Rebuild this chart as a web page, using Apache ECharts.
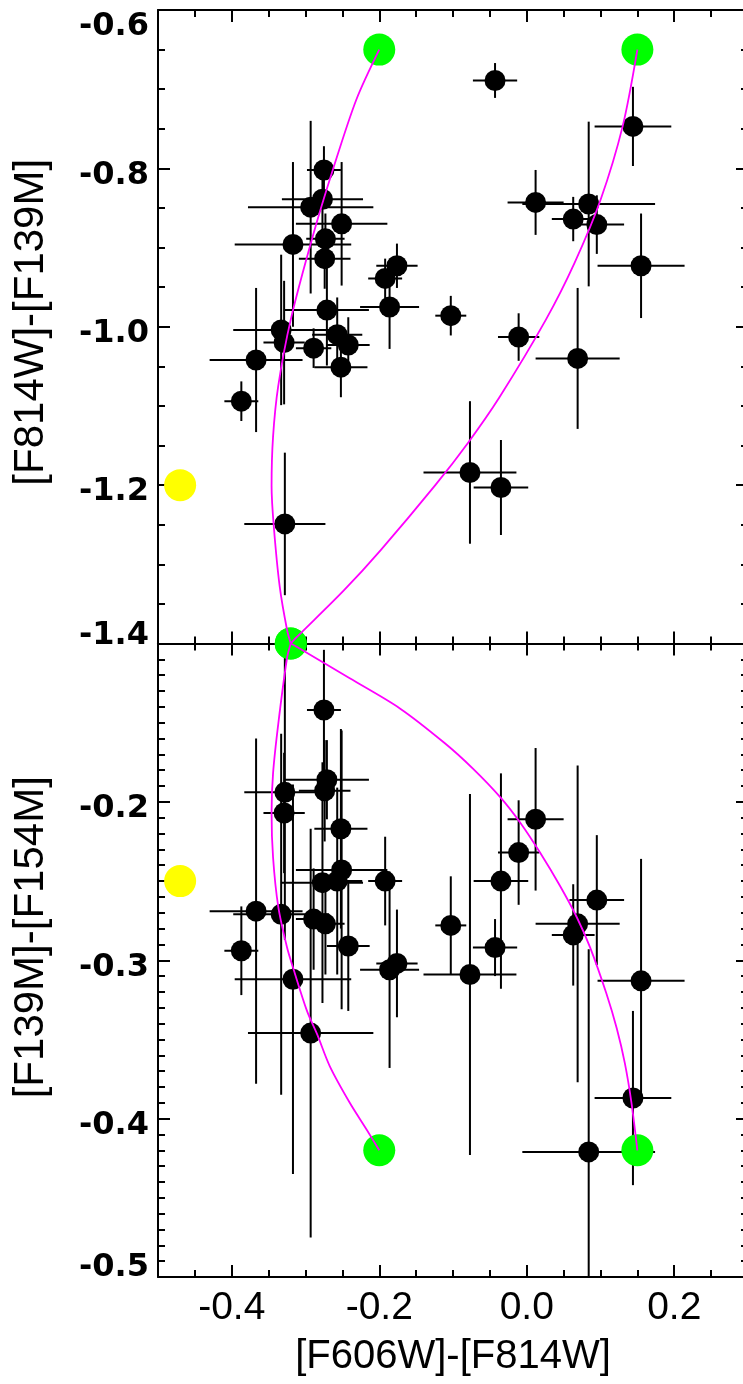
<!DOCTYPE html>
<html><head><meta charset="utf-8">
<script src="https://cdn.jsdelivr.net/npm/echarts@6/dist/echarts.min.js"></script>
<style>html,body{margin:0;padding:0;background:#fff}#c{width:743px;height:1384px}</style>
</head><body><div id="c"></div>
<script>
// ---- data ----
const colorX    = [-0.275,-0.277,-0.293,-0.251,-0.273,-0.317,-0.274,-0.043,0.144,0.012,0.084,0.063,0.095,0.155,-0.176,-0.192,-0.186,-0.271,-0.103,-0.011,-0.333,-0.329,-0.257,-0.242,-0.252,-0.289,-0.367,0.069,-0.387,-0.077,-0.035,-0.328];
const colorXErr = [0.023,0.055,0.085,0.062,0.026,0.079,0.035,0.030,0.052,0.038,0.090,0.029,0.037,0.059,0.028,0.023,0.040,0.057,0.021,0.028,0.065,0.028,0.034,0.029,0.036,0.024,0.063,0.057,0.023,0.063,0.037,0.055];
const topY      = [-0.802,-0.839,-0.849,-0.870,-0.889,-0.896,-0.914,-0.689,-0.747,-0.843,-0.845,-0.864,-0.871,-0.923,-0.923,-0.939,-0.975,-0.979,-0.986,-1.013,-1.004,-1.020,-1.010,-1.023,-1.051,-1.027,-1.042,-1.040,-1.094,-1.184,-1.203,-1.249];
const topYErr   = [0.030,0.038,0.109,0.078,0.032,0.104,0.038,0.022,0.050,0.041,0.104,0.028,0.037,0.066,0.028,0.025,0.053,0.070,0.025,0.030,0.095,0.078,0.047,0.035,0.038,0.025,0.091,0.089,0.025,0.090,0.060,0.090];
const botY      = [-0.142,-0.251,-0.346,-0.243,-0.277,-0.312,-0.193,-0.292,-0.387,-0.211,-0.421,-0.284,-0.262,-0.313,-0.302,-0.250,-0.306,-0.186,-0.278,-0.232,-0.271,-0.207,-0.250,-0.291,-0.217,-0.274,-0.269,-0.277,-0.294,-0.309,-0.250,-0.194];
const botYErr   = [0.038,0.076,0.129,0.088,0.032,0.123,0.032,0.018,0.055,0.045,0.128,0.032,0.041,0.077,0.034,0.028,0.062,0.025,0.031,0.033,0.114,0.038,0.059,0.041,0.063,0.032,0.109,0.100,0.028,0.114,0.068,0.093];

const topGreen  = [[-0.2,-0.65],[0.15,-0.65],[-0.32,-1.4]];
const botGreen  = [[-0.32,-0.1],[-0.2,-0.42],[0.15,-0.42]];
const topYellow = [[-0.47,-1.2]];
const botYellow = [[-0.47,-0.25]];

const topCurveA = [[-0.2,-0.65],[-0.231,-0.713],[-0.263,-0.802],[-0.289,-0.882],[-0.320,-0.991],[-0.337,-1.075],[-0.344,-1.139],[-0.346,-1.201],[-0.343,-1.252],[-0.335,-1.328],[-0.325,-1.383],[-0.32,-1.4]];
const topCurveB = [[0.15,-0.65],[0.130,-0.747],[0.100,-0.840],[0.065,-0.919],[0.026,-0.991],[-0.037,-1.089],[-0.080,-1.147],[-0.124,-1.200],[-0.198,-1.282],[-0.248,-1.333],[-0.313,-1.393],[-0.32,-1.4]];
const botCurveA = [[-0.32,-0.1],[-0.325,-0.109],[-0.337,-0.151],[-0.344,-0.182],[-0.346,-0.207],[-0.344,-0.235],[-0.337,-0.266],[-0.325,-0.292],[-0.316,-0.306],[-0.298,-0.332],[-0.284,-0.347],[-0.267,-0.367],[-0.240,-0.390],[-0.217,-0.407],[-0.2,-0.42]];
const botCurveB = [[-0.32,-0.1],[-0.312,-0.102],[-0.240,-0.122],[-0.172,-0.141],[-0.111,-0.163],[-0.073,-0.179],[-0.036,-0.197],[-0.009,-0.213],[0.018,-0.232],[0.045,-0.253],[0.068,-0.273],[0.086,-0.292],[0.108,-0.321],[0.122,-0.343],[0.133,-0.365],[0.142,-0.390],[0.15,-0.42]];

const xMajorTicks = [-0.4,-0.2,0.0,0.2];
const xTickLabels = ['-0.4','-0.2','0.0','0.2'];
const xTitle = '[F606W]-[F814W]';
const topYTitle = '[F814W]-[F139M]';
const botYTitle = '[F139M]-[F154M]';

// ---- chart ----
const X_MIN=-0.5, X_MAX=0.3;
const TOP_MIN=-1.4, TOP_MAX=-0.6, BOT_MIN=-0.5, BOT_MAX=-0.1;
const BLACK='#000';
const lineSt={color:BLACK,width:2};
const yLabFont={fontFamily:'DejaVu Sans',fontWeight:'bold',fontSize:32,color:BLACK};

function xMajor(grid,pos,withLabels){
  const a={type:'value',gridIndex:grid,position:pos,min:X_MIN,max:X_MAX,interval:0.1,
    axisLine:{show:true,onZero:false,lineStyle:lineSt},
    axisTick:{show:true,inside:true,length:12,lineStyle:lineSt,customValues:xMajorTicks},
    axisLabel:{show:false},splitLine:{show:false},minorTick:{show:false}};
  if(withLabels){
    a.axisLabel={show:true,customValues:xMajorTicks,margin:12,fontFamily:'Liberation Sans',fontSize:39,color:BLACK,
      formatter:v=>{const i=xMajorTicks.findIndex(t=>Math.abs(t-v)<1e-9);return i<0?'':xTickLabels[i];}};
    a.name=xTitle;a.nameLocation='middle';a.nameGap=60;
    a.nameTextStyle={fontFamily:'Liberation Sans',fontSize:40,color:BLACK};
  }
  return a;
}
function xMinor(grid,pos){
  return {type:'value',gridIndex:grid,position:pos,min:X_MIN,max:X_MAX,interval:0.05,
    axisLine:{show:false},axisTick:{show:true,inside:true,length:7,lineStyle:lineSt},
    axisLabel:{show:false},splitLine:{show:false}};
}
function yAx(grid,pos,min,max,interval,minorSplit,labelFmt,name,namePad){
  const a={type:'value',gridIndex:grid,position:pos,min:min,max:max,interval:interval,
    axisLine:{show:true,onZero:false,lineStyle:lineSt},
    axisTick:{show:true,inside:true,length:12,lineStyle:lineSt},
    minorTick:{show:true,splitNumber:minorSplit,length:7,lineStyle:lineSt},
    splitLine:{show:false},minorSplitLine:{show:false},axisLabel:{show:false}};
  if(labelFmt){
    a.axisLabel=Object.assign({show:true,margin:9,formatter:labelFmt,
      rich:{n:Object.assign({padding:[14,0,0,0]},yLabFont),
            dn:Object.assign({padding:[33,0,0,0]},yLabFont),
            up:Object.assign({padding:[0,0,15,0]},yLabFont),
            up2:Object.assign({padding:[0,0,18,0]},yLabFont)}},yLabFont);
    a.name=name;a.nameLocation='middle';a.nameRotate=90;a.nameGap=106;
    a.nameTextStyle={fontFamily:'Liberation Sans',fontSize:42,color:BLACK,padding:namePad};
  }
  return a;
}
const near=(a,b)=>Math.abs(a-b)<1e-6;
const topFmt=v=>{const s=v.toFixed(1);if(near(v,TOP_MAX))return '{dn|'+s+'}';if(near(v,TOP_MIN))return '{up|'+s+'}';return '{n|'+s+'}';};
const botFmt=v=>{const s=v.toFixed(1);if(near(v,BOT_MAX))return '';if(near(v,BOT_MIN))return '{up2|'+s+'}';return '{n|'+s+'}';};

function errRender(params,api){
  const x=api.value(0),y=api.value(1),xe=api.value(2),ye=api.value(3);
  const cs=params.coordSys;
  const c=api.coord([x,y]);
  const l=api.coord([x-xe,y]),r=api.coord([x+xe,y]);
  const t=api.coord([x,y+ye]),b=api.coord([x,y-ye]);
  const cl=(v,a,b2)=>Math.max(a,Math.min(b2,v));
  const x1=cl(l[0],cs.x,cs.x+cs.width),x2=cl(r[0],cs.x,cs.x+cs.width);
  const y1=cl(t[1],cs.y,cs.y+cs.height),y2=cl(b[1],cs.y,cs.y+cs.height);
  return {type:'group',children:[
    {type:'line',shape:{x1:x1,y1:c[1],x2:x2,y2:c[1]},style:{stroke:BLACK,lineWidth:2}},
    {type:'line',shape:{x1:c[0],y1:y1,x2:c[0],y2:y2},style:{stroke:BLACK,lineWidth:2}}
  ]};
}
function errSeries(xi,yi,ys,yes){
  return {type:'custom',xAxisIndex:xi,yAxisIndex:yi,renderItem:errRender,z:2,silent:true,
    encode:{x:0,y:1},data:colorX.map((v,i)=>[v,ys[i],colorXErr[i],yes[i]])};
}
function dots(xi,yi,data,color,size,z){
  return {type:'scatter',xAxisIndex:xi,yAxisIndex:yi,data:data,symbol:'circle',symbolSize:size,
    itemStyle:{color:color,opacity:1},z:z,clip:false,silent:true};
}
function curve(xi,yi,data){
  return {type:'line',xAxisIndex:xi,yAxisIndex:yi,data:data,smooth:0.3,showSymbol:false,symbol:'none',
    lineStyle:{color:'#ff00ff',width:1.8},z:6,clip:false,silent:true};
}

const option={
  animation:false,
  backgroundColor:'#fff',
  grid:[
    {left:158,top:10,width:590,height:633.5,containLabel:false,outerBoundsMode:'none'},
    {left:158,top:643.5,width:590,height:633.5,containLabel:false,outerBoundsMode:'none'}
  ],
  xAxis:[
    xMajor(0,'bottom',false), xMinor(0,'bottom'), xMajor(0,'top',false), xMinor(0,'top'),
    xMajor(1,'bottom',true),  xMinor(1,'bottom'), xMajor(1,'top',false), xMinor(1,'top')
  ],
  yAxis:[
    yAx(0,'left',TOP_MIN,TOP_MAX,0.2,4,topFmt,topYTitle,[0,0,0,9]),
    yAx(0,'right',TOP_MIN,TOP_MAX,0.2,4,null),
    yAx(1,'left',BOT_MIN,BOT_MAX,0.1,10,botFmt,botYTitle,[0,0,0,46]),
    yAx(1,'right',BOT_MIN,BOT_MAX,0.1,10,null)
  ],
  series:[
    errSeries(0,0,topY,topYErr),
    dots(0,0,colorX.map((v,i)=>[v,topY[i]]),BLACK,21,3),
    dots(0,0,topYellow,'#ffff00',32,4),
    dots(0,0,topGreen,'#00ff00',32,4),
    curve(0,0,topCurveA), curve(0,0,topCurveB),
    errSeries(4,2,botY,botYErr),
    dots(4,2,colorX.map((v,i)=>[v,botY[i]]),BLACK,21,3),
    dots(4,2,botYellow,'#ffff00',32,4),
    dots(4,2,botGreen,'#00ff00',32,4),
    curve(4,2,botCurveA), curve(4,2,botCurveB)
  ]
};
const chart=echarts.init(document.getElementById('c'),null,{renderer:'canvas'});
chart.setOption(option);
</script></body></html>
